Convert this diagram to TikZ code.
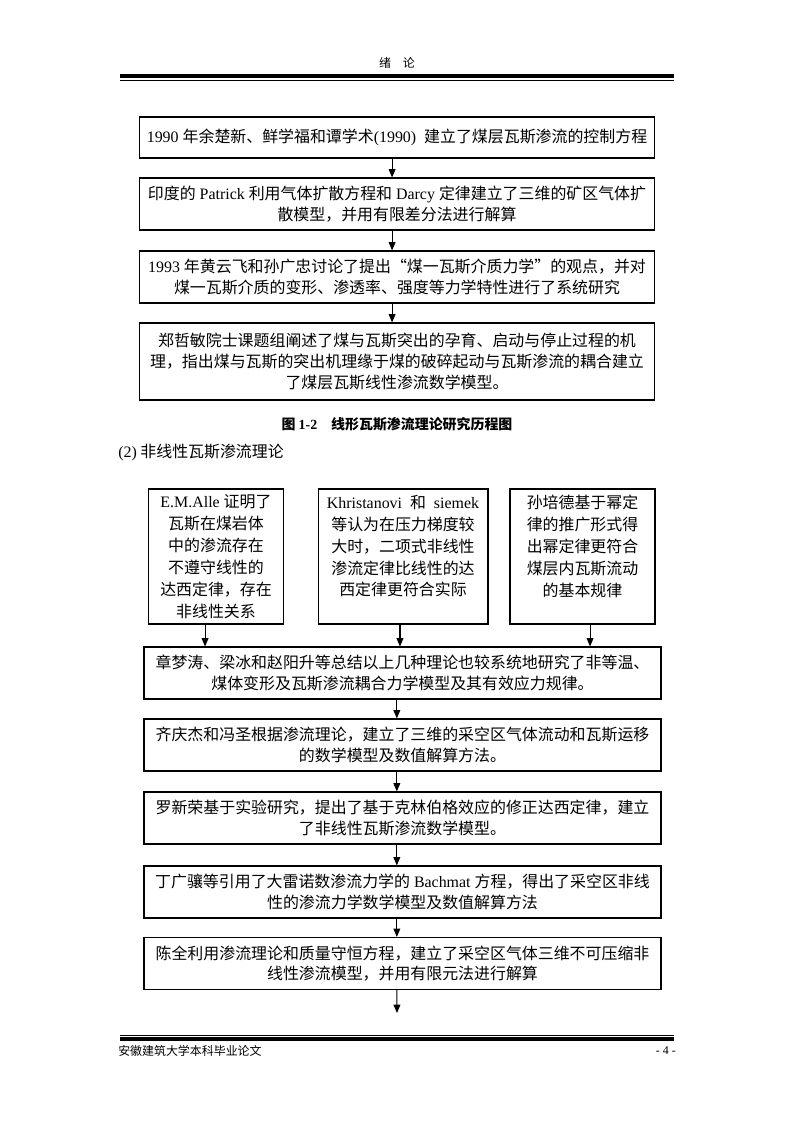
\documentclass[tikz,border=0pt]{standalone}
\usepackage{fontspec}
\setmainfont{Noto Sans CJK SC}
\newfontfamily\enfont{Liberation Serif}
\newcommand{\entxt}[1]{{\enfont #1}}
\usetikzlibrary{arrows.meta, positioning}

\begin{document}
\begin{tikzpicture}[x=0.2648mm, y=-0.2648mm,
  box/.style={draw, line width=0.8pt, inner sep=0pt, align=center, font=\fontsize{12pt}{15.5pt}\selectfont},
  widebox/.style={box, minimum width=136.9mm, minimum height=13.77mm},
  tallbox/.style={box, minimum height=35.75mm, font=\fontsize{12pt}{16.5pt}\selectfont},
  arr/.style={-{Triangle[length=2.2mm, width=1.8mm]}, line width=0.8pt},
  plain/.style={inner sep=0pt, font=\fontsize{9pt}{11pt}\selectfont}]
\useasboundingbox (0,0) rectangle (793,1122);

\node[plain] (head) at (397,63) {绪\quad 论};
\draw[line width=3pt] (120,76) -- (674,76);
\draw[line width=0.75pt] (120,80) -- (674,80);

\node[box, minimum width=136.6mm, minimum height=10.86mm] (yu) at (397,137.5)
  {\entxt{1990 }年余楚新、鲜学福和谭学术\entxt{(1990)\ \ }建立了煤层瓦斯渗流的控制方程};
\node[box, minimum width=136.6mm, minimum height=13.77mm] (patrick) at (397,204)
  {印度的\entxt{ Patrick }利用气体扩散方程和\entxt{ Darcy }定律建立了三维的矿区气体扩\\散模型，并用有限差分法进行解算};
\node[box, minimum width=136.6mm, minimum height=13.77mm] (huang) at (397,277)
  {\entxt{1993 }年黄云飞和孙广忠讨论了提出“煤一瓦斯介质力学”的观点，并对\\煤一瓦斯介质的变形、渗透率、强度等力学特性进行了系统研究};
\node[box, minimum width=136.6mm, minimum height=20.39mm] (zheng) at (397,361.5)
  {郑哲敏院士课题组阐述了煤与瓦斯突出的孕育、启动与停止过程的机\\理，指出煤与瓦斯的突出机理缘于煤的破碎起动与瓦斯渗流的耦合建立\\了煤层瓦斯线性渗流数学模型。};

\draw[arr] ([xshift=-1.3mm]yu.south) -- ([xshift=-1.3mm]patrick.north);
\draw[arr] ([xshift=-1.3mm]patrick.south) -- ([xshift=-1.3mm]huang.north);
\draw[arr] ([xshift=-1.3mm]huang.south) -- ([xshift=-1.3mm]zheng.north);

\node[inner sep=0pt, font=\bfseries\fontsize{10.5pt}{12pt}\selectfont] (cap) at (397,424)
  {图 \entxt{1-2}\quad 线形瓦斯渗流理论研究历程图};
\node[anchor=west, inner sep=0pt, font=\fontsize{12pt}{14pt}\selectfont] (sec) at (118,452)
  {\entxt{(2)} 非线性瓦斯渗流理论};

\node[tallbox, minimum width=35.5mm] (alle) at (216,556.5)
  {\entxt{E.M.Alle }证明了\\瓦斯在煤岩体\\中的渗流存在\\不遵守线性的\\达西定律，存在\\非线性关系};
\node[tallbox, minimum width=45mm] (khr) at (403,556.5)
  {\entxt{Khristanovi\ \ }和\entxt{\ \ siemek}\\等认为在压力梯度较\\大时，二项式非线性\\渗流定律比线性的达\\西定律更符合实际\\\mbox{}};
\node[tallbox, minimum width=38.4mm] (sun) at (582.5,556.5)
  {孙培德基于幂定\\律的推广形式得\\出幂定律更符合\\煤层内瓦斯流动\\的基本规律\\\mbox{}};

\node[widebox] (zhang) at (402.5,673)
  {章梦涛、梁冰和赵阳升等总结以上几种理论也较系统地研究了非等温、\\煤体变形及瓦斯渗流耦合力学模型及其有效应力规律。};
\node[widebox] (qi) at (402.5,745)
  {齐庆杰和冯圣根据渗流理论，建立了三维的采空区气体流动和瓦斯运移\\的数学模型及数值解算方法。};
\node[widebox] (luo) at (402.5,818)
  {罗新荣基于实验研究，提出了基于克林伯格效应的修正达西定律，建立\\了非线性瓦斯渗流数学模型。};
\node[widebox] (ding) at (402.5,892)
  {丁广骧等引用了大雷诺数渗流力学的\entxt{ Bachmat }方程，得出了采空区非线\\性的渗流力学数学模型及数值解算方法};
\node[widebox] (chen) at (402.5,963.5)
  {陈全利用渗流理论和质量守恒方程，建立了采空区气体三维不可压缩非\\线性渗流模型，并用有限元法进行解算};
\coordinate (next) at (397,1013);

\draw[arr] ([xshift=-2.9mm]alle.south) -- ([xshift=-2.9mm]alle.south |- zhang.north);
\draw[arr] ([xshift=-0.8mm]khr.south) -- ([xshift=-0.8mm]khr.south |- zhang.north);
\draw[arr] ([xshift=2mm]sun.south) -- ([xshift=2mm]sun.south |- zhang.north);
\draw[arr] ([xshift=-1.5mm]zhang.south) -- ([xshift=-1.5mm]qi.north);
\draw[arr] ([xshift=-1.5mm]qi.south) -- ([xshift=-1.5mm]luo.north);
\draw[arr] ([xshift=-1.5mm]luo.south) -- ([xshift=-1.5mm]ding.north);
\draw[arr] ([xshift=-1.5mm]ding.south) -- ([xshift=-1.5mm]chen.north);
\draw[arr] ([xshift=-1.5mm]chen.south) -- (next);

\draw[line width=0.75pt] (120,1035) -- (674,1035);
\draw[line width=3pt] (120,1039) -- (674,1039);
\node[plain, anchor=west] (school) at (118,1051) {安徽建筑大学本科毕业论文};
\node[plain, anchor=east] (page) at (676,1051) {\entxt{- 4 -}};
\end{tikzpicture}
\end{document}
